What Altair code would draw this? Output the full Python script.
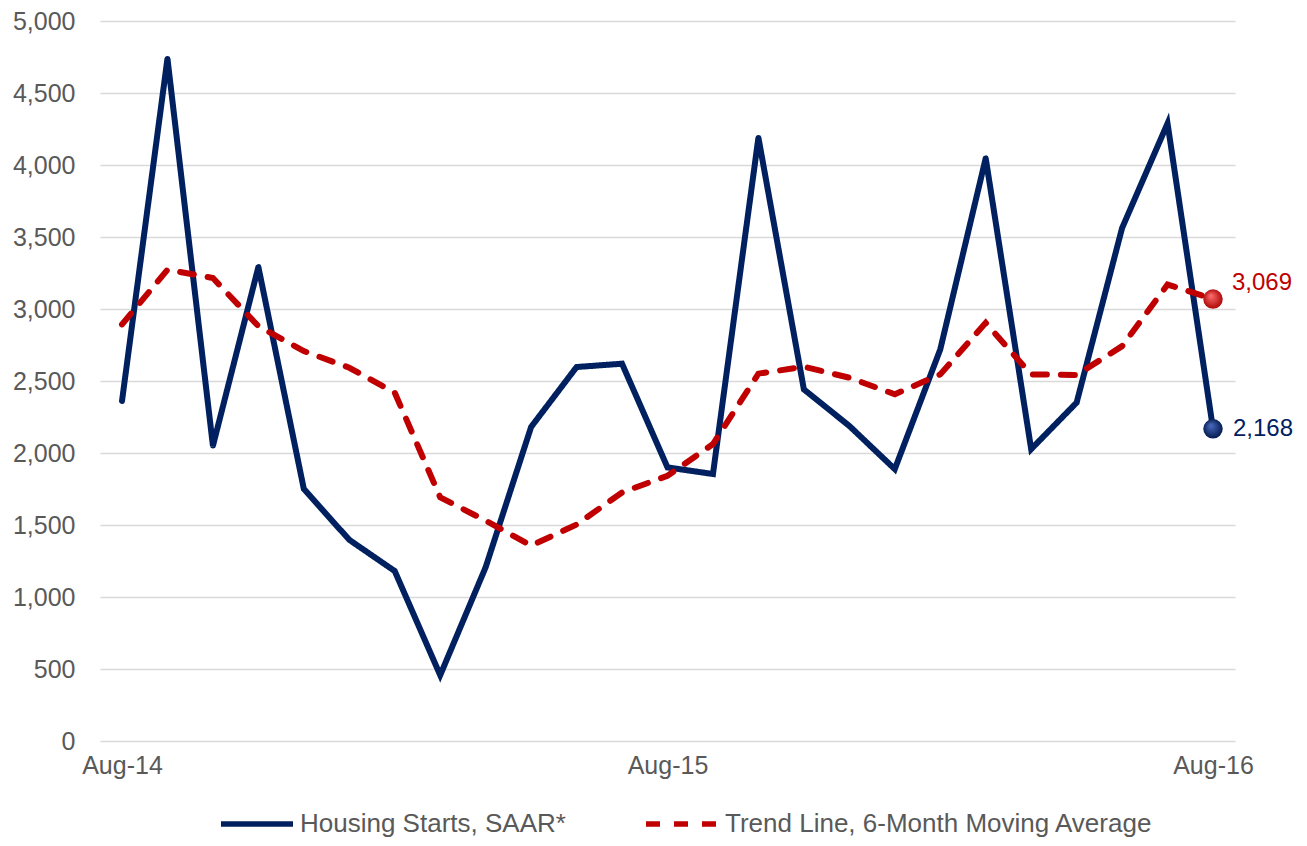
import altair as alt
import pandas as pd

months = ["Aug-14", "Sep-14", "Oct-14", "Nov-14", "Dec-14", "Jan-15", "Feb-15", "Mar-15",
          "Apr-15", "May-15", "Jun-15", "Jul-15", "Aug-15", "Sep-15", "Oct-15", "Nov-15",
          "Dec-15", "Jan-16", "Feb-16", "Mar-16", "Apr-16", "May-16", "Jun-16", "Jul-16", "Aug-16"]
starts = [2361, 4739, 2050, 3292, 1750, 1397, 1180, 457, 1207, 2181, 2597, 2620, 1900,
          1854, 4190, 2442, 2188, 1888, 2719, 4047, 2027, 2350, 3562, 4289, 2168]
trend = [2893, 3273, 3215, 2881, 2708, 2592, 2419, 1692, 1530, 1357, 1503, 1726, 1842,
         2062, 2551, 2599, 2523, 2408, 2546, 2904, 2546, 2542, 2742, 3170, 3069]
series_names = ["Housing Starts, SAAR*", "Trend Line, 6-Month Moving Average"]
x_tick_labels = ["Aug-14", "Aug-15", "Aug-16"]
y_ticks = list(range(0, 5001, 500))

NAVY = "#002060"
RED = "#C00000"
GRAY = "#595959"
FONT = "Liberation Sans"

df = pd.DataFrame({
    "month": months * 2,
    "value": starts + trend,
    "series": [series_names[0]] * len(months) + [series_names[1]] * len(months),
})
end_blue = pd.DataFrame({"month": [months[-1]], "value": [starts[-1]], "label": [f"{starts[-1]:,}"]})
end_red = pd.DataFrame({"month": [months[-1]], "value": [trend[-1]], "label": [f"{trend[-1]:,}"]})

x_enc = alt.X("month:O", sort=months,
              scale=alt.Scale(type="point", padding=0.484),
              axis=alt.Axis(values=x_tick_labels, labelAngle=0, ticks=False, domain=False,
                            grid=False, labelPadding=12, title=None))
y_enc = alt.Y("value:Q", scale=alt.Scale(domain=[0, 5000], nice=False),
              axis=alt.Axis(values=y_ticks, format=",.0f", ticks=False, domain=False,
                            gridColor="#d9d9d9", gridWidth=1.5, labelPadding=25, title=None))

legend = alt.Legend(title=None, orient="none", legendX=118, legendY=764, direction="horizontal",
                    symbolType="stroke", symbolSize=5184, symbolStrokeWidth=5.5,
                    labelFontSize=26, labelColor=GRAY, labelFont=FONT, columnPadding=69,
                    labelOffset=4, labelLimit=700)

lines = alt.Chart(df).mark_line(strokeWidth=6, strokeCap="round").encode(
    x=x_enc,
    y=y_enc,
    color=alt.Color("series:N", scale=alt.Scale(domain=series_names, range=[NAVY, RED]), legend=legend),
    strokeDash=alt.StrokeDash("series:N", scale=alt.Scale(domain=series_names, range=[[1, 0], [14, 14]]),
                              legend=legend),
)

grad_blue = {"gradient": "radial", "x1": 0.38, "y1": 0.32, "r1": 0, "x2": 0.5, "y2": 0.5, "r2": 0.55,
             "stops": [{"offset": 0, "color": "#4a6cc0"}, {"offset": 1, "color": "#001548"}]}
grad_red = {"gradient": "radial", "x1": 0.38, "y1": 0.32, "r1": 0, "x2": 0.5, "y2": 0.5, "r2": 0.55,
            "stops": [{"offset": 0, "color": "#ff7070"}, {"offset": 1, "color": "#a80000"}]}

dot_blue = alt.Chart(end_blue).mark_circle(size=380, opacity=1, fill=grad_blue).encode(x=x_enc, y=y_enc)
dot_red = alt.Chart(end_red).mark_circle(size=380, opacity=1, fill=grad_red).encode(x=x_enc, y=y_enc)
txt_blue = alt.Chart(end_blue).mark_text(align="left", baseline="middle", dx=20, dy=0, fontSize=24,
                                         font=FONT, color=NAVY).encode(x=x_enc, y=y_enc, text="label:N")
txt_red = alt.Chart(end_red).mark_text(align="left", baseline="middle", dx=19, dy=-16, fontSize=24,
                                       font=FONT, color=RED).encode(x=x_enc, y=y_enc, text="label:N")

chart = alt.layer(lines, dot_blue, dot_red, txt_blue, txt_red).properties(
    width=1135, height=720,
    padding={"left": 92, "top": 13, "right": 64, "bottom": 97},
    autosize=alt.AutoSizeParams(type="none"),
).configure_view(stroke=None).configure_axis(
    labelFont=FONT, labelFontSize=25, labelColor=GRAY
)

chart.save("out.html", embed_options={"renderer": "svg", "actions": False})
